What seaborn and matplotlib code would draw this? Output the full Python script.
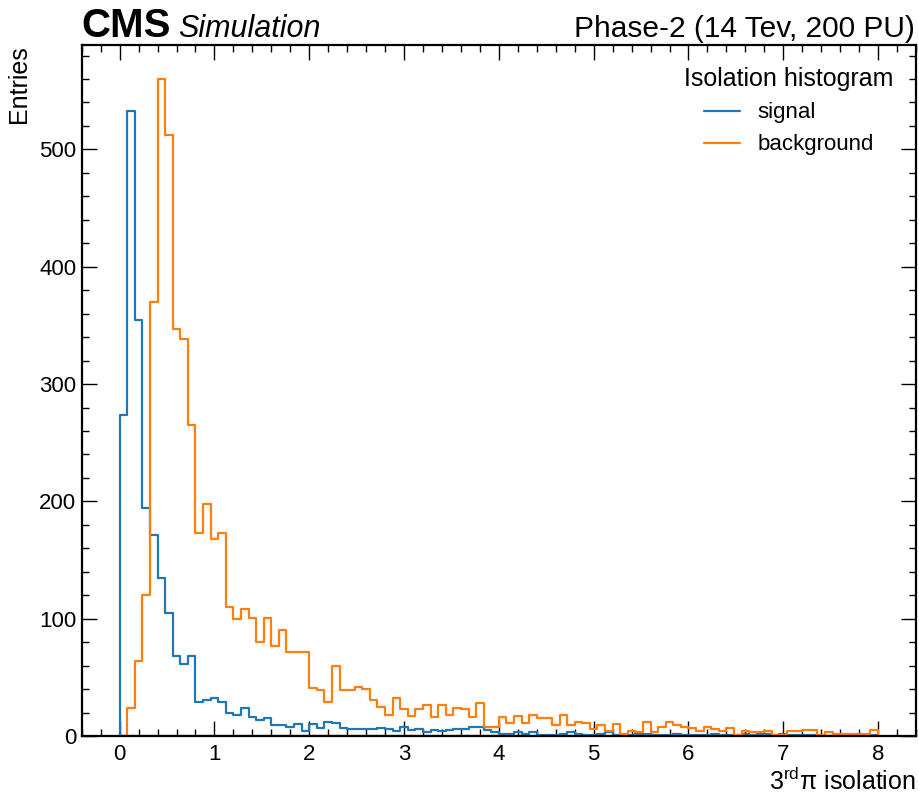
import numpy as np
import pandas as pd
import matplotlib
matplotlib.use("Agg")
import matplotlib.pyplot as plt
from matplotlib.lines import Line2D
from matplotlib.ticker import MultipleLocator
import seaborn as sns

# ---- data ----
bin_edges = [round(0.08 * i, 2) for i in range(101)]
signal = [274, 533, 355, 194, 171, 135, 105, 68, 61, 68,
          29, 31, 32, 29, 20, 18, 24, 16, 14, 15,
          9, 9, 8, 10, 4, 10, 7, 12, 11, 7,
          6, 6, 6, 6, 7, 6, 4, 8, 5, 6,
          3, 5, 4, 5, 6, 6, 8, 8, 5, 3,
          2, 2, 3, 2, 3, 1, 1, 1, 2, 3,
          2, 1, 1, 2, 3, 1, 1, 1, 2, 2,
          1, 1, 1, 2, 1, 1, 1, 1, 2, 1,
          1, 1, 2, 1, 2, 2, 1, 2, 1, 1,
          1, 1, 1, 0, 1, 1, 1, 2, 1, 1]
background = [0, 24, 64, 120, 370, 560, 512, 347, 338, 265,
              173, 198, 168, 173, 110, 100, 108, 101, 80, 101,
              77, 90, 72, 72, 72, 41, 39, 29, 60, 39,
              39, 42, 40, 31, 25, 18, 32, 23, 17, 23,
              26, 16, 26, 18, 24, 23, 16, 28, 8, 8,
              16, 11, 17, 11, 18, 15, 15, 9, 18, 9,
              12, 11, 6, 9, 4, 10, 2, 4, 3, 12,
              3, 8, 12, 9, 8, 7, 4, 8, 6, 4,
              7, 1, 4, 3, 3, 4, 1, 1, 4, 4,
              5, 5, 1, 3, 2, 2, 2, 2, 2, 5]
series_labels = ["signal", "background"]
series_colors = ["#1f77b4", "#ff7f0e"]

edges_arr = np.array(bin_edges)
centers = (edges_arr[:-1] + edges_arr[1:]) / 2

sns.set_style("ticks")
plt.rcParams["font.family"] = ["Liberation Sans", "DejaVu Sans"]
plt.rcParams["mathtext.fontset"] = "custom"
plt.rcParams["mathtext.rm"] = "Liberation Sans"
plt.rcParams["mathtext.it"] = "Liberation Sans:italic"
plt.rcParams["mathtext.bf"] = "Liberation Sans:bold"
for k in ["text.color", "axes.labelcolor", "xtick.color", "ytick.color", "axes.edgecolor"]:
    plt.rcParams[k] = "black"

fig = plt.figure(figsize=(9.19, 7.94), dpi=100)
ax = fig.add_axes([81.7 / 919, 58 / 794, (916 - 81.7) / 919, (736 - 45) / 794])

for lab, col, counts in zip(series_labels, series_colors, [signal, background]):
    sub = pd.DataFrame({"x": centers, "w": np.asarray(counts, dtype=float)})
    n_before = len(ax.collections)
    sns.histplot(data=sub, x="x", weights="w", bins=bin_edges,
                 element="step", fill=True, ax=ax, color=col)
    for coll in ax.collections[n_before:]:
        coll.set_facecolor("none")
        coll.set_edgecolor(col)
        coll.set_linewidth(1.6)
        coll.set_alpha(1)

ax.set_xlim(-0.4, 8.4)
ax.set_ylim(0, 589)
ax.xaxis.set_major_locator(MultipleLocator(1))
ax.xaxis.set_minor_locator(MultipleLocator(0.2))
ax.yaxis.set_major_locator(MultipleLocator(100))
ax.yaxis.set_minor_locator(MultipleLocator(20))
ax.tick_params(which="both", direction="in", top=True, right=True, labelsize=16,
               colors="black")
ax.tick_params(which="major", length=10.5, width=1.0)
ax.tick_params(which="minor", length=5.2, width=1.0)
ax.tick_params(axis="x", which="major", pad=6)
ax.tick_params(axis="y", which="major", pad=4)
for sp in ax.spines.values():
    sp.set_linewidth(1.6)
    sp.set_color("black")

ax.set_xlabel("3$^{\\mathrm{rd}}$π isolation", loc="right", fontsize=18, labelpad=2)
ax.set_ylabel("Entries", loc="top", fontsize=18, labelpad=6)

handles = [Line2D([], [], color=c, lw=1.6) for c in series_colors]
leg = ax.legend(handles, series_labels, title="Isolation histogram", loc="upper right",
                frameon=False, fontsize=16, title_fontsize=18, handlelength=1.6,
                handletextpad=0.8, borderaxespad=0.6, labelspacing=0.5)

ax.text(0.0, 1.011, "CMS", transform=ax.transAxes, ha="left", va="baseline",
        fontsize=29, fontweight="bold")
ax.text(0.115, 1.011, "Simulation", transform=ax.transAxes, ha="left", va="baseline",
        fontsize=22, fontstyle="italic")
ax.text(0.999, 1.011, "Phase-2 (14 Tev, 200 PU)", transform=ax.transAxes, ha="right",
        va="baseline", fontsize=21.5)

fig.savefig("out.png", dpi=100)
